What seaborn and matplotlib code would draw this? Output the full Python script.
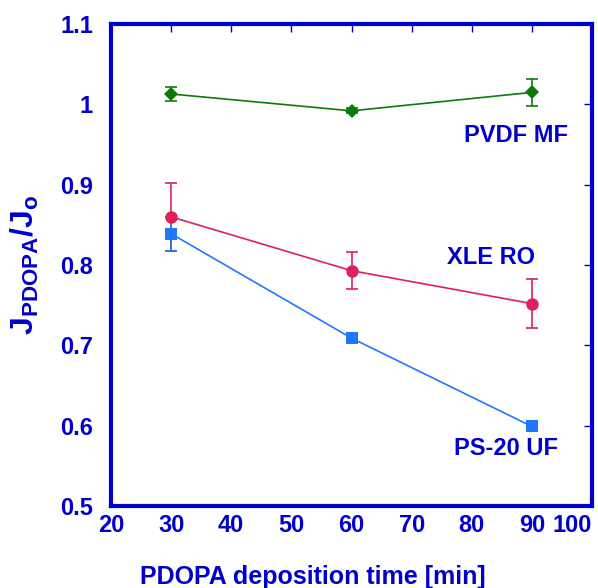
import matplotlib
matplotlib.use("Agg")
import matplotlib.pyplot as plt
import seaborn as sns
import pandas as pd

times = [30, 60, 90]
pvdf_mean = [1.013, 0.992, 1.015]
pvdf_err = [0.009, 0.003, 0.017]
xle_mean = [0.860, 0.793, 0.752]
xle_err = [0.042, 0.023, 0.030]
ps_mean = [0.839, 0.709, 0.599]
ps_err = [0.021, 0.005, 0.003]

series_names = ["PVDF MF", "XLE RO", "PS-20 UF"]
x_ticks = [20, 30, 40, 50, 60, 70, 80, 90, 100]
y_ticks = [0.5, 0.6, 0.7, 0.8, 0.9, 1.0, 1.1]
y_tick_labels = ["0.5", "0.6", "0.7", "0.8", "0.9", "1", "1.1"]

sns.set_style("white")
plt.rcParams['font.family'] = ['Liberation Sans', 'DejaVu Sans']
plt.rcParams['mathtext.fontset'] = 'custom'
plt.rcParams['mathtext.rm'] = 'Liberation Sans:bold'
plt.rcParams['mathtext.it'] = 'Liberation Sans:bold'
plt.rcParams['mathtext.bf'] = 'Liberation Sans:bold'

df = pd.DataFrame({
    "time": times * 3,
    "ratio": pvdf_mean + xle_mean + ps_mean,
    "err": pvdf_err + xle_err + ps_err,
    "series": [n for n in series_names for _ in times],
})

colors = {"PVDF MF": "#0b7a0b", "XLE RO": "#e0205a", "PS-20 UF": "#1f77ff"}
markers = {"PVDF MF": "D", "XLE RO": "o", "PS-20 UF": "s"}
sizes = {"PVDF MF": 7, "XLE RO": 9, "PS-20 UF": 8}
label_pos = {"PVDF MF": (87.3, 0.961), "XLE RO": (83.2, 0.809), "PS-20 UF": (85.7, 0.571)}
txtc = "#0000cc"

fig = plt.figure(figsize=(5.98, 5.88), dpi=100)
ax = fig.add_axes([0.1856, 0.1395, 0.8044, 0.8195])

for name in series_names:
    sub = df[df.series == name]
    ax.errorbar(sub.time, sub.ratio, yerr=sub.err, fmt="none",
                ecolor=colors[name], elinewidth=1.2, capsize=4, capthick=1.2, zorder=2)
    sns.lineplot(data=sub, x="time", y="ratio", ax=ax, color=colors[name],
                 marker=markers[name], markersize=sizes[name], markeredgewidth=0,
                 linewidth=1.2, legend=False, zorder=3)
    lx, ly = label_pos[name]
    ax.text(lx, ly, name, ha="center", va="center", fontsize=17,
            fontweight="bold", color=txtc)

ax.set_xlim(20, 100)
ax.set_ylim(0.5, 1.1)
ax.set_xticks(x_ticks)
ax.set_xticklabels([str(t) for t in x_ticks])
ax.set_yticks(y_ticks)
ax.set_yticklabels(y_tick_labels)
ax.tick_params(direction="in", length=6, width=1, color=txtc, top=True, right=True,
               labelsize=17, labelcolor=txtc)
ax.tick_params(axis="y", pad=13)
ax.tick_params(axis="x", pad=6)
for lab in ax.get_xticklabels() + ax.get_yticklabels():
    lab.set_fontweight("bold")
ax.get_xticklabels()[-1].set_horizontalalignment("right")
for sp in ax.spines.values():
    sp.set_color(txtc)
    sp.set_linewidth(3)

ax.set_xlabel("PDOPA deposition time [min]", fontsize=18, fontweight="bold",
              color=txtc, labelpad=16)
ax.xaxis.set_label_coords(0.42, -0.147)
ax.xaxis.label.set_verticalalignment("center")
ax.set_ylabel(r"$\mathbf{J_{PDOPA}/J_{o}}$", fontsize=23, color=txtc, labelpad=14)

fig.savefig("out.png", dpi=100)
